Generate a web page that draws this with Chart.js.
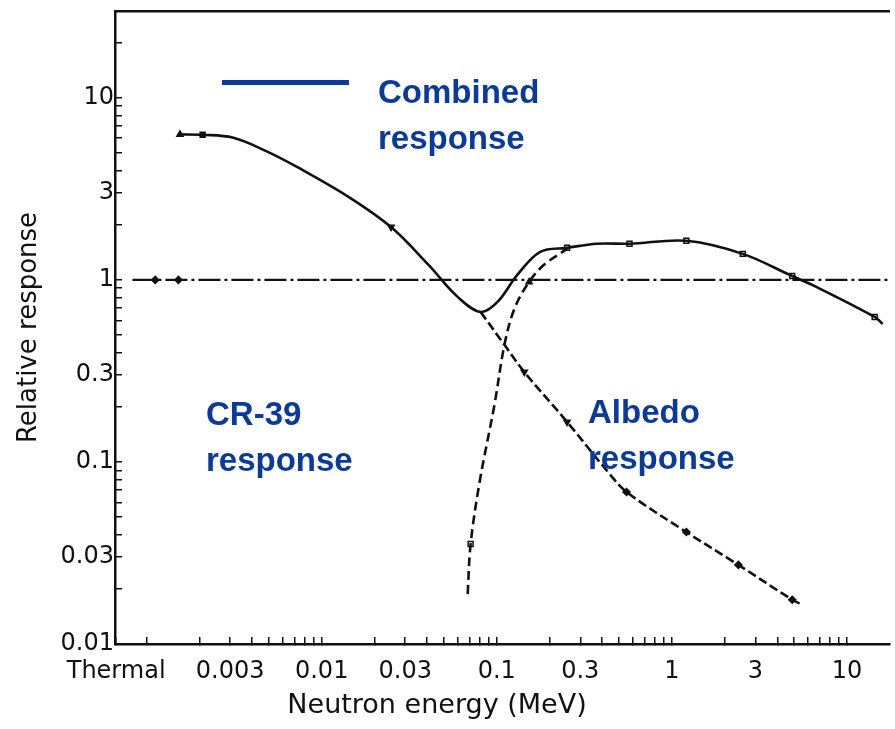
<!DOCTYPE html>
<html>
<head>
<meta charset="utf-8">
<script src="https://cdn.jsdelivr.net/npm/chart.js@4.4.1/dist/chart.umd.min.js"></script>
<style>
  html, body { margin: 0; padding: 0; background: #ffffff; }
  #wrap { width: 895px; height: 729px; position: relative; }
</style>
</head>
<body>
<div id="wrap"><canvas id="chart" width="895" height="729"></canvas></div>
<script>
// ---- Axis ranges and tick labels ----
const xRange = [0.00066, 17.5];
const yRange = [0.01, 30];
const xTickValues = [0.00067, 0.003, 0.01, 0.03, 0.1, 0.3, 1, 3, 10];
const xTickLabels = ['Thermal', '0.003', '0.01', '0.03', '0.1', '0.3', '1', '3', '10'];
const yTickValues = [0.01, 0.03, 0.1, 0.3, 1, 3, 10];
const yTickLabels = ['0.01', '0.03', '0.1', '0.3', '1', '3', '10'];

// ---- Curves: neutron energy (MeV) vs relative response ----
const refEnergy = [0.00083, 17.5];
const refResponse = [1, 1];

const combinedEnergy = [0.00155, 0.00209, 0.0031, 0.00482, 0.00741, 0.01423, 0.0249, 0.0404, 0.0598, 0.0809, 0.101, 0.131, 0.177, 0.252, 0.372, 0.573, 1.21, 2.54, 4.87, 6.33, 14.4, 16];
const combinedResponse = [6.3, 6.27, 6.05, 5.1, 4.12, 2.86, 1.95, 1.22, 0.807, 0.667, 0.757, 1.065, 1.425, 1.50, 1.58, 1.58, 1.64, 1.39, 1.05, 0.939, 0.626, 0.573];

const fallingEnergy = [0.0809, 0.1106, 0.1436, 0.252, 0.441, 0.551, 1.21, 2.40, 4.87, 5.55];
const fallingResponse = [0.667, 0.44, 0.312, 0.166, 0.0859, 0.0684, 0.0412, 0.0272, 0.0175, 0.0164];

const risingEnergy = [0.0682, 0.0709, 0.0798, 0.097, 0.1106, 0.126, 0.153, 0.186, 0.252];
const risingResponse = [0.0188, 0.0354, 0.0776, 0.206, 0.44, 0.693, 0.975, 1.21, 1.48];

// ---- Measured points ----
const triUpEnergy = [0.00155, 0.153];
const triUpResponse = [6.3, 0.975];
const triDownEnergy = [0.0249, 0.1436, 0.252];
const triDownResponse = [1.95, 0.312, 0.166];
const squareEnergy = [0.00209];
const squareResponse = [6.27];
const openSquareEnergy = [0.0709, 0.252, 0.573, 1.21, 2.54, 4.87, 14.4];
const openSquareResponse = [0.0354, 1.50, 1.58, 1.64, 1.39, 1.05, 0.626];
const diamondEnergy = [0.00112, 0.00152, 0.551, 1.21, 2.40, 4.87];
const diamondResponse = [1, 1, 0.0684, 0.0412, 0.0272, 0.0175];

const ink = '#111111';
const blue = '#0a3a9c';

function pairs(xs, ys) { return xs.map((x, i) => ({ x: x, y: ys[i] })); }

function logTicks(lo, hi, fromExp) {
  const out = [];
  for (let e = fromExp; e <= 2; e++) {
    for (let m = 1; m <= 9; m++) {
      const v = m * Math.pow(10, e);
      if (v >= lo * 0.999 && v <= hi * 1.001) out.push(v);
    }
  }
  return out;
}

function mergeTicks(minor, major) {
  const all = minor.slice();
  major.forEach(v => {
    if (!all.some(t => Math.abs(Math.log10(t) - Math.log10(v)) < 1e-6)) all.push(v);
  });
  return all.sort((a, b) => a - b).map(v => ({ value: v }));
}

function labelFor(values, labels, v) {
  const i = values.findIndex(t => Math.abs(Math.log10(t) - Math.log10(v)) < 1e-6);
  return i >= 0 ? labels[i] : '';
}

const curve = (label, xs, ys, extra) => Object.assign({
  label: label,
  data: pairs(xs, ys),
  borderColor: ink,
  borderWidth: 2.6,
  pointRadius: 0,
  fill: false,
  tension: 0.35
}, extra || {});

const marks = (label, xs, ys, extra) => Object.assign({
  label: label,
  data: pairs(xs, ys),
  showLine: false,
  pointRadius: 3.5,
  pointBorderWidth: 1.5,
  pointBorderColor: ink,
  pointBackgroundColor: ink
}, extra || {});

// Blue annotations, legend sample and the energy axis caption
const annotations = {
  id: 'annotations',
  afterDraw(chart) {
    const ctx = chart.ctx;
    const a = chart.chartArea;
    ctx.save();
    ctx.fillStyle = blue;
    ctx.fillRect(a.left + 107, 80, 127, 5);
    ctx.font = 'bold 33px "Liberation Sans", Arial, sans-serif';
    ctx.textAlign = 'left';
    ctx.textBaseline = 'alphabetic';
    const notes = [
      { x: a.left + 263, y: 103, lines: ['Combined', 'response'] },
      { x: a.left + 91, y: 425, lines: ['CR-39', 'response'] },
      { x: a.left + 473, y: 423, lines: ['Albedo', 'response'] }
    ];
    notes.forEach(n => n.lines.forEach((t, i) => ctx.fillText(t, n.x, n.y + i * 46)));
    ctx.fillStyle = ink;
    ctx.font = '27px "DejaVu Sans", sans-serif';
    ctx.textAlign = 'center';
    ctx.textBaseline = 'middle';
    ctx.fillText('Neutron energy (MeV)', a.left + 322, 706);
    ctx.restore();
  }
};

new Chart(document.getElementById('chart'), {
  type: 'line',
  data: {
    datasets: [
      curve('Unit response', refEnergy, refResponse, { borderDash: [22, 4, 3, 4], borderWidth: 2.4, tension: 0 }),
      curve('Combined response', combinedEnergy, combinedResponse),
      curve('Falling branch', fallingEnergy, fallingResponse, { borderDash: [9, 4] }),
      curve('Rising branch', risingEnergy, risingResponse, { borderDash: [9, 5] }),
      marks('Triangles up', triUpEnergy, triUpResponse, { pointStyle: 'triangle' }),
      marks('Triangles down', triDownEnergy, triDownResponse, { pointStyle: 'triangle', rotation: 180 }),
      marks('Squares', squareEnergy, squareResponse, { pointStyle: 'rect' }),
      marks('Open squares', openSquareEnergy, openSquareResponse, { pointStyle: 'rect', pointBackgroundColor: '#ffffff' }),
      marks('Diamonds', diamondEnergy, diamondResponse, { pointStyle: 'rectRot' })
    ]
  },
  options: {
    responsive: false,
    animation: false,
    devicePixelRatio: 1,
    layout: { padding: { top: 11, left: 0, right: 0, bottom: 0 } },
    plugins: { legend: { display: false }, tooltip: { enabled: false } },
    scales: {
      x: {
        type: 'logarithmic',
        position: 'bottom',
        min: xRange[0],
        max: xRange[1],
        afterBuildTicks: s => { s.ticks = mergeTicks(logTicks(0.001, xRange[1], -3), xTickValues); },
        afterFit: s => { s.height = 85; s.paddingLeft = 0; s.paddingRight = 0; },
        grid: { drawOnChartArea: false, drawTicks: true, tickLength: -7, tickColor: ink, lineWidth: 1.5 },
        border: { display: true, color: ink, width: 2.5 },
        ticks: {
          autoSkip: false, maxRotation: 0, minRotation: 0, padding: 20,
          color: ink, font: { family: 'DejaVu Sans', size: 24 },
          major: { enabled: false },
          callback: v => labelFor(xTickValues, xTickLabels, v)
        }
      },
      x2: {
        type: 'logarithmic',
        position: 'top',
        min: xRange[0],
        max: xRange[1],
        afterFit: s => { s.height = 0; },
        grid: { display: false, drawTicks: false },
        border: { display: true, color: ink, width: 2.5 },
        ticks: { display: false }
      },
      y: {
        type: 'logarithmic',
        position: 'left',
        min: yRange[0],
        max: yRange[1],
        afterBuildTicks: s => { s.ticks = mergeTicks(logTicks(yRange[0], yRange[1], -2), yTickValues); },
        afterFit: s => { s.width = 115; s.paddingTop = 0; s.paddingBottom = 0; },
        grid: { drawOnChartArea: false, drawTicks: true, tickLength: -7, tickColor: ink, lineWidth: 1.5 },
        border: { display: true, color: ink, width: 2.5 },
        title: {
          display: true, text: 'Relative response', color: ink,
          font: { family: 'DejaVu Sans', size: 26 }, padding: { top: 14, bottom: 0 }
        },
        ticks: {
          autoSkip: false, padding: 8,
          color: ink, font: { family: 'DejaVu Sans', size: 24 },
          major: { enabled: false },
          callback: v => labelFor(yTickValues, yTickLabels, v)
        }
      }
    }
  },
  plugins: [annotations]
});
</script>
</body>
</html>
